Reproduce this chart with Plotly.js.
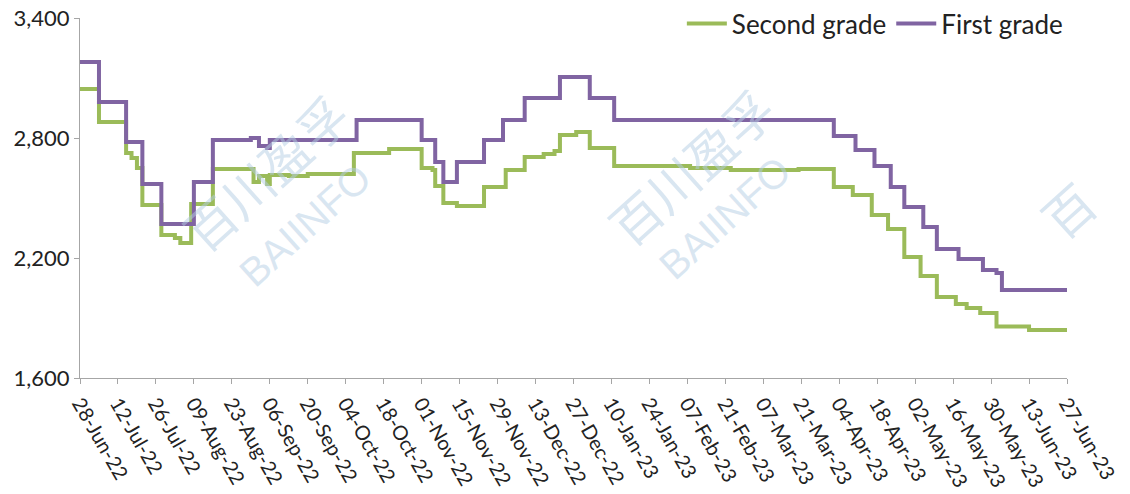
<!DOCTYPE html>
<html>
<head>
<meta charset="utf-8">
<script src="https://cdn.plot.ly/plotly-3.0.1.min.js"></script>
<style>html,body{margin:0;padding:0;background:#fff;}#chart{width:1130px;height:494px;}</style>
</head>
<body>
<div id="chart"></div>
<script>
// Second grade: dates where the price changes, and the new price
const secondDates = ['2022-06-28','2022-07-05','2022-07-15','2022-07-17','2022-07-19','2022-07-21','2022-07-28','2022-08-02','2022-08-04','2022-08-08','2022-08-16','2022-08-31','2022-09-02','2022-09-05','2022-09-06','2022-09-13','2022-09-20','2022-10-07','2022-10-20','2022-11-01','2022-11-05','2022-11-06','2022-11-09','2022-11-14','2022-11-24','2022-12-02','2022-12-09','2022-12-16','2022-12-20','2022-12-22','2022-12-28','2023-01-02','2023-01-11','2023-02-08','2023-02-23','2023-03-20','2023-04-02','2023-04-09','2023-04-16','2023-04-22','2023-04-28','2023-05-04','2023-05-10','2023-05-17','2023-05-21','2023-05-26','2023-06-01','2023-06-13','2023-06-27'];
const secondValues = [3045,2880,2725,2700,2650,2465,2315,2300,2275,2470,2645,2580,2610,2570,2615,2610,2620,2725,2745,2650,2640,2560,2475,2460,2555,2640,2705,2720,2735,2815,2830,2750,2660,2650,2640,2645,2555,2515,2415,2345,2205,2110,2005,1970,1950,1925,1858,1840,1840];

// First grade
const firstDates = ['2022-06-28','2022-07-05','2022-07-15','2022-07-21','2022-07-28','2022-08-09','2022-08-16','2022-08-30','2022-09-02','2022-09-05','2022-09-06','2022-10-08','2022-11-01','2022-11-06','2022-11-09','2022-11-14','2022-11-24','2022-12-01','2022-12-09','2022-12-22','2023-01-02','2023-01-11','2023-04-02','2023-04-10','2023-04-17','2023-04-23','2023-04-28','2023-05-05','2023-05-10','2023-05-18','2023-05-27','2023-06-01','2023-06-03','2023-06-27'];
const firstValues = [3180,2980,2780,2570,2370,2580,2790,2800,2760,2750,2790,2890,2790,2680,2580,2680,2790,2890,3000,3105,3000,2890,2810,2740,2660,2555,2455,2355,2245,2195,2140,2125,2040,2040];

const yTicks = [1600,2200,2800,3400];
const xStart = '2022-06-28', xEnd = '2023-06-27';

const FONT = 'Lato, "Noto Sans", sans-serif';
const traces = [
  {x: secondDates, y: secondValues, name: 'Second grade', type: 'scatter', mode: 'lines',
   line: {color: '#9bbb59', width: 4, shape: 'hv'}},
  {x: firstDates, y: firstValues, name: 'First grade', type: 'scatter', mode: 'lines',
   line: {color: '#8064a2', width: 4, shape: 'hv'}}
];

const wm = 'rgba(180,205,228,0.5)';
const cjk = '"Noto Sans CJK SC", sans-serif';
function mark(text, x, y, size, fam) {
  return {text: text, xref: 'paper', yref: 'paper', x: x, y: y, xanchor: 'center', yanchor: 'middle',
          showarrow: false, textangle: -42, font: {family: fam, size: size, color: wm}};
}
const layout = {
  width: 1130, height: 494,
  margin: {l: 80, r: 63, t: 18, b: 116, autoexpand: false},
  paper_bgcolor: '#fff', plot_bgcolor: '#fff',
  font: {family: FONT, size: 17, color: '#222'},
  showlegend: true,
  legend: {orientation: 'h', xref: 'container', yref: 'container', x: 0.945, xanchor: 'right', y: 1.0, yanchor: 'top',
           font: {family: FONT, size: 26, color: '#222'}, bgcolor: 'rgba(0,0,0,0)', itemwidth: 40},
  xaxis: {type: 'date', range: [xStart, xEnd], tick0: xStart, dtick: 14*86400000,
          tickformat: '%d-%b-%y', tickangle: 60, ticks: 'outside', ticklen: 5,
          tickcolor: '#a6a6a6', showline: true, linecolor: '#a6a6a6', linewidth: 1,
          showgrid: false, zeroline: false, fixedrange: true,
          tickfont: {family: FONT, size: 20, color: '#222'}},
  yaxis: {range: [1600, 3400], tickvals: yTicks, ticktext: yTicks.map(v => v.toLocaleString('en-US')),
          ticks: 'outside', ticklen: 5, tickcolor: '#a6a6a6', showline: true,
          linecolor: '#a6a6a6', linewidth: 1, showgrid: false, zeroline: false,
          tickfont: {family: FONT, size: 22, color: '#222'}},
  annotations: [
    mark('百川盈孚', 0.187, 0.572, 50, cjk),
    mark('BAIINFO', 0.228, 0.425, 40, 'Arial, sans-serif'),
    mark('百川盈孚', 0.618, 0.59, 50, cjk),
    mark('BAIINFO', 0.653, 0.444, 40, 'Arial, sans-serif'),
    mark('百', 1.0, 0.47, 50, cjk)
  ]
};

Plotly.newPlot('chart', traces, layout, {displayModeBar: false, staticPlot: true});
</script>
</body>
</html>
